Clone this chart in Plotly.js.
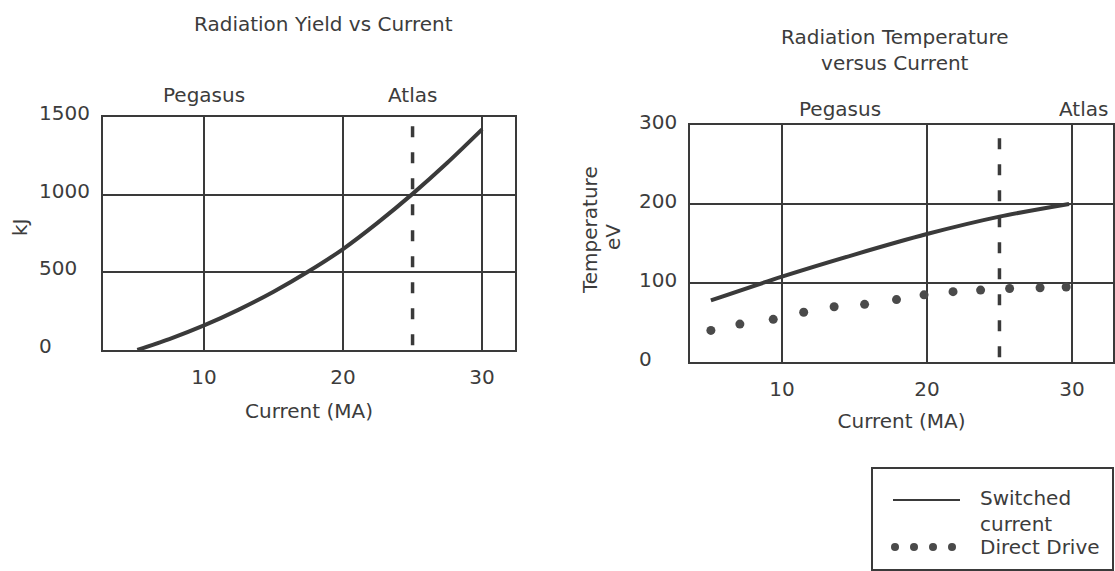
<!DOCTYPE html>
<html>
<head>
<meta charset="utf-8">
<script src="https://cdn.plot.ly/plotly-3.0.1.min.js"></script>
<style>html,body{margin:0;padding:0;background:#fff;}#chart{width:1115px;height:571px;}</style>
</head>
<body>
<div id="chart"></div>
<script>
// ---- data ----
const yieldCurrent = [5.2, 7.5, 10, 12.5, 15, 17.5, 20, 22.5, 25, 27.5, 30];
const yieldKJ      = [0, 70, 158, 260, 375, 505, 650, 820, 1005, 1205, 1420];

const switchedCurrent = [5.1, 10, 15, 20, 25, 29.8];
const switchedTemp    = [78, 108, 136, 162, 184, 200];

const directCurrent = [5.1, 7.1, 9.4, 11.5, 13.6, 15.7, 17.9, 19.8, 21.8, 23.7, 25.7, 27.8, 29.6];
const directTemp    = [40, 48, 54, 63, 70, 73, 79, 85, 89, 91, 93, 94, 95];

const xTicks = [10, 20, 30];
const yieldTicks = [0, 500, 1000, 1500];
const tempTicks = [0, 100, 200, 300];
const atlasCurrent = 25;

const machineLabels = ['Pegasus', 'Atlas'];
const yieldLabelX = [10, 25];
const tempLabelX = [14, 30.8];

// ---- styling helpers ----
const W = 1115, H = 571;
const px = v => v / W;
const py = v => 1 - v / H;
const FONT = 'DejaVu Sans, Arial, sans-serif';
const INK = '#3a3a3a';
const TXT = '#3c3c3c';
const f = (s) => ({family: FONT, size: s, color: TXT});

const traces = [
  {x: yieldCurrent, y: yieldKJ, xaxis: 'x', yaxis: 'y', mode: 'lines',
   line: {color: INK, width: 4, shape: 'spline', smoothing: 0.8}, showlegend: false, hoverinfo: 'skip'},
  {x: switchedCurrent, y: switchedTemp, xaxis: 'x2', yaxis: 'y2', mode: 'lines', name: 'Switched current',
   line: {color: INK, width: 4, shape: 'spline', smoothing: 0.8}, showlegend: false, hoverinfo: 'skip'},
  {x: directCurrent, y: directTemp, xaxis: 'x2', yaxis: 'y2', mode: 'markers', name: 'Direct Drive',
   marker: {color: '#4a4a4a', size: 9}, showlegend: false, hoverinfo: 'skip'}
];

function xAxis(domain, range, anchor, standoff) {
  return {
    domain: domain, range: range, anchor: anchor,
    tickvals: xTicks, ticktext: xTicks.map(String),
    showgrid: true, gridcolor: INK, gridwidth: 2,
    showline: true, mirror: true, linecolor: INK, linewidth: 2,
    zeroline: false, ticks: '', tickfont: f(20), ticklabelstandoff: 8,
    title: {text: 'Current (MA)', font: f(20), standoff: standoff},
    fixedrange: true
  };
}
function yAxis(domain, range, ticks, anchor) {
  return {
    domain: domain, range: range, anchor: anchor,
    tickvals: ticks, showticklabels: false,
    showgrid: true, gridcolor: INK, gridwidth: 2,
    showline: true, mirror: true, linecolor: INK, linewidth: 2,
    zeroline: false, ticks: '', fixedrange: true
  };
}

const annotations = [];
// titles
annotations.push({xref: 'paper', yref: 'paper', x: px(324), y: py(24), text: 'Radiation Yield vs Current',
  showarrow: false, font: f(20), xanchor: 'center', yanchor: 'middle'});
annotations.push({xref: 'paper', yref: 'paper', x: px(895), y: py(50), text: 'Radiation Temperature<br>versus Current',
  showarrow: false, font: f(20), xanchor: 'center', yanchor: 'middle'});
// y tick labels (left aligned as in the reference)
yieldTicks.forEach(v => annotations.push({xref: 'paper', yref: 'y', x: px(37), y: v, text: String(v),
  showarrow: false, font: f(20), xanchor: 'left', yanchor: 'middle', yshift: 4}));
tempTicks.forEach(v => annotations.push({xref: 'paper', yref: 'y2', x: px(637), y: v, text: String(v),
  showarrow: false, font: f(20), xanchor: 'left', yanchor: 'middle', yshift: 3}));
// y titles
annotations.push({xref: 'paper', yref: 'paper', x: px(20), y: py(228), text: 'kJ', textangle: -90,
  showarrow: false, font: f(20), xanchor: 'center', yanchor: 'middle'});
annotations.push({xref: 'paper', yref: 'paper', x: px(590), y: py(230), text: 'Temperature', textangle: -90,
  showarrow: false, font: f(20), xanchor: 'center', yanchor: 'middle'});
annotations.push({xref: 'paper', yref: 'paper', x: px(613), y: py(237), text: 'eV', textangle: -90,
  showarrow: false, font: f(20), xanchor: 'center', yanchor: 'middle'});
// machine labels
machineLabels.forEach((t, i) => annotations.push({xref: 'x', yref: 'paper', x: yieldLabelX[i], y: py(95), text: t,
  showarrow: false, font: f(20), xanchor: 'center', yanchor: 'middle'}));
machineLabels.forEach((t, i) => annotations.push({xref: 'x2', yref: 'paper', x: tempLabelX[i], y: py(109), text: t,
  showarrow: false, font: f(20), xanchor: 'center', yanchor: 'middle'}));
// custom legend text
annotations.push({xref: 'paper', yref: 'paper', x: px(978), y: py(511), text: 'Switched<br>current',
  showarrow: false, font: f(20), xanchor: 'left', yanchor: 'middle', align: 'left'});
annotations.push({xref: 'paper', yref: 'paper', x: px(978), y: py(547), text: 'Direct Drive',
  showarrow: false, font: f(20), xanchor: 'left', yanchor: 'middle', align: 'left'});

const shapes = [
  {type: 'line', xref: 'x', yref: 'y domain', x0: atlasCurrent, x1: atlasCurrent, y0: 0.02, y1: 1,
   line: {color: INK, width: 3.5, dash: '11px,15px'}},
  {type: 'line', xref: 'x2', yref: 'y2 domain', x0: atlasCurrent, x1: atlasCurrent, y0: 0.02, y1: 1,
   line: {color: INK, width: 3.5, dash: '11px,15px'}},
  // legend box
  {type: 'rect', xref: 'paper', yref: 'paper', x0: px(872), x1: px(1113), y0: py(570), y1: py(468),
   line: {color: INK, width: 2}},
  {type: 'line', xref: 'paper', yref: 'paper', x0: px(893), x1: px(960), y0: py(500), y1: py(500),
   line: {color: INK, width: 2}}
];
[895, 914, 933, 952].forEach(cx => shapes.push({type: 'circle', xref: 'paper', yref: 'paper',
  x0: px(cx - 4), x1: px(cx + 4), y0: py(551), y1: py(543), fillcolor: '#4a4a4a', line: {width: 0}}));

const layout = {
  width: W, height: H,
  margin: {l: 0, r: 0, t: 0, b: 0},
  paper_bgcolor: '#fff', plot_bgcolor: '#fff',
  font: f(20),
  showlegend: false,
  xaxis: xAxis([px(103), px(515)], [2.73, 32.37], 'y', 16),
  yaxis: yAxis([py(350), py(117)], [0, 1500], yieldTicks, 'x'),
  xaxis2: xAxis([px(690), px(1113)], [3.66, 32.83], 'y2', 14),
  yaxis2: yAxis([py(362), py(125)], [0, 300], tempTicks, 'x2'),
  annotations: annotations,
  shapes: shapes
};

Plotly.newPlot('chart', traces, layout, {staticPlot: true, displayModeBar: false});
</script>
</body>
</html>
